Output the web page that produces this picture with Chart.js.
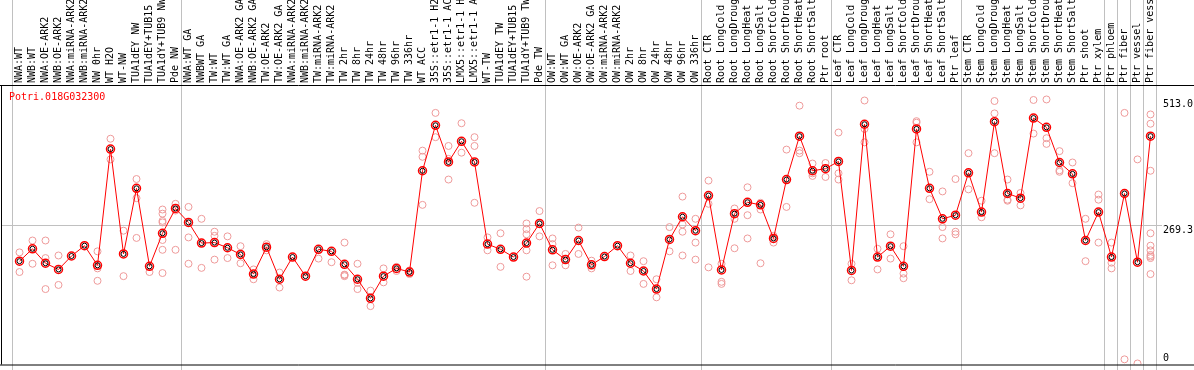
<!DOCTYPE html>
<html>
<head>
<meta charset="utf-8">
<script src="https://cdn.jsdelivr.net/npm/chart.js@4.4.0/dist/chart.umd.min.js"></script>
<style>
  html, body { margin: 0; padding: 0; background: #fff; }
</style>
</head>
<body>
<canvas id="myChart" width="1194" height="370"></canvas>
<script>
const geneId = 'Potri.018G032300';

const samples = [
  'NWA:WT', 'NWB:WT', 'NWA:OE-ARK2', 'NWB:OE-ARK2', 'NWA:miRNA-ARK2', 'NWB:miRNA-ARK2', 'NW 0hr',
  'WT H2O', 'WT-NW', 'TUA1dEY NW', 'TUA1dEY+TUB15', 'TUA1dY+TUB9 NW', 'Pde NW',
  'NWA:WT GA', 'NWBWT GA', 'TW:WT', 'TW:WT GA', 'NWA:OE-ARK2 GA', 'NWB:OE-ARK2 GA', 'TW:OE-ARK2',
  'TW:OE-ARK2 GA', 'NWA:miRNA-ARK2', 'NWB:miRNA-ARK2', 'TW:miRNA-ARK2', 'TW:miRNA-ARK2', 'TW 2hr',
  'TW 8hr', 'TW 24hr', 'TW 48hr', 'TW 96hr', 'TW 336hr', 'WT ACC', '35S::etr1-1 H2', '35S::etr1-1 AC',
  'LMX5::etr1-1 H', 'LMX5::etr1-1 A', 'WT-TW', 'TUA1dEY TW', 'TUA1dEY+TUB15', 'TUA1dY+TUB9 TW', 'Pde TW',
  'OW:WT', 'OW:WT GA', 'OW:OE-ARK2', 'OW:OE-ARK2 GA', 'OW:miRNA-ARK2', 'OW:miRNA-ARK2', 'OW 2hr',
  'OW 8hr', 'OW 24hr', 'OW 48hr', 'OW 96hr', 'OW 336hr',
  'Root CTR', 'Root LongCold', 'Root LongDroug', 'Root LongHeat', 'Root LongSalt', 'Root ShortCold',
  'Root ShortDrou', 'Root ShortHeat', 'Root ShortSalt', 'Ptr root',
  'Leaf CTR', 'Leaf LongCold', 'Leaf LongDroug', 'Leaf LongHeat', 'Leaf LongSalt', 'Leaf ShortCold',
  'Leaf ShortDrou', 'Leaf ShortHeat', 'Leaf ShortSalt', 'Ptr leaf',
  'Stem CTR', 'Stem LongCold', 'Stem LongDroug', 'Stem LongHeat', 'Stem LongSalt', 'Stem ShortCold',
  'Stem ShortDrou', 'Stem ShortHeat', 'Stem ShortSalt', 'Ptr shoot',
  'Ptr xylem', 'Ptr phloem', 'Ptr fiber', 'Ptr vessel', 'Ptr fiber vess'
];

// mean expression per sample
const means = [
  200, 224, 196, 184, 210, 230, 192, 417, 214, 341, 190, 254, 302,
  275, 235, 236, 226, 213, 175, 227, 165, 208, 171, 223, 219, 194, 165, 128, 171, 186, 179,
  375, 463, 392, 432, 392, 233, 223, 208, 235, 273,
  222, 203, 240, 193, 209, 230, 196, 181, 146, 242, 286, 259,
  327, 183, 292, 314, 309, 244, 358, 442, 375, 379,
  393, 182, 465, 208, 229, 190, 456, 341, 282, 289,
  371, 295, 470, 331, 322, 477, 459, 391, 369, 240,
  295, 208, 331, 198, 442
];

// individual replicates per sample
const replicates = [
  [217, 179], [240, 195], [240, 206, 146], [211, 154], [245, 179], [275, 222, 195], [219, 186, 162],
  [437, 397], [259, 171], [359, 322], [205, 198, 171], [300, 292, 278, 241, 222, 177], [311, 298],
  [305, 246], [282, 187], [257, 249, 203], [248, 206], [229, 196], [184, 165], [233, 221], [178, 149],
  [211, 203], [188, 156], [225], [244, 196], [236, 174, 173], [195, 158, 146], [143, 113], [186, 159],
  [189, 181], [182, 175], [414, 402, 309], [487, 440], [423, 398, 358], [467, 410], [440, 423, 313],
  [246, 221], [254, 189], [230, 221, 175], [273, 262, 252, 221, 170], [297, 248],
  [244, 233, 192], [214, 192], [265, 214], [201, 186], [212, 206], [254, 209], [211, 181], [200, 156],
  [165, 130], [266, 219], [325, 271, 257], [282, 236],
  [356, 311], [195, 160], [302, 282], [343, 289], [313, 300], [249, 236], [416, 305], [501, 414, 409],
  [389, 370, 365], [390, 363],
  [449, 370, 358], [195, 163], [511, 456, 430], [224, 184], [252, 205], [229, 176, 167], [471, 468, 430],
  [373, 320], [335, 266, 244], [359, 257, 252],
  [409, 339], [317, 285], [510, 486, 409], [358, 319, 317], [332, 308], [512, 447], [513, 438, 427],
  [413, 376, 373], [391, 351], [282, 200],
  [329, 319, 236], [236, 197, 186], [487, 10], [397, 2], [484, 466, 375]
];

const yTicks = [0, 269.3, 513.0];
const yMax = 541;
// first sample index of each block (separator lines)
const groupStarts = [0, 13, 41, 53, 63, 73, 84, 85, 86, 87, 88];

const monoFont = 'DejaVu Sans Mono';

const repPoints = [];
replicates.forEach((vals, i) => {
  vals.forEach(v => repPoints.push({ x: samples[i], y: v }));
});

const framePlugin = {
  id: 'frame',
  beforeDatasetsDraw(chart) {
    const { ctx, scales: { x, y } } = chart;
    const step = x.width / samples.length;
    ctx.save();
    ctx.strokeStyle = '#c0c0c0';
    ctx.lineWidth = 1;
    groupStarts.forEach(i => {
      const px = Math.round(x.getPixelForValue(i) - step / 2 - 1.5) + 0.5;
      ctx.beginPath();
      ctx.moveTo(px, 0);
      ctx.lineTo(px, chart.height);
      ctx.stroke();
    });
    const top = Math.max(...yTicks);
    yTicks.filter(v => v > 0 && v < top).forEach(v => {
      const py = Math.round(y.getPixelForValue(v)) + 0.5;
      ctx.beginPath();
      ctx.moveTo(2, py);
      ctx.lineTo(x.right + 5, py);
      ctx.stroke();
    });
    ctx.restore();
  },
  afterDraw(chart) {
    const { ctx, chartArea, scales: { y } } = chart;
    ctx.save();
    ctx.strokeStyle = '#000';
    ctx.lineWidth = 1;
    ctx.beginPath();
    ctx.moveTo(0, chartArea.top + 0.5);
    ctx.lineTo(chart.width, chartArea.top + 0.5);
    ctx.moveTo(0, chartArea.bottom + 0.5);
    ctx.lineTo(chart.width, chartArea.bottom + 0.5);
    ctx.moveTo(1.5, chartArea.top);
    ctx.lineTo(1.5, chartArea.bottom);
    ctx.stroke();

    ctx.font = '10px "' + monoFont + '"';
    ctx.fillStyle = '#000';
    ctx.textAlign = 'left';
    yTicks.forEach(v => {
      const py = y.getPixelForValue(v);
      const txt = v === 0 ? '0' : v.toFixed(1);
      if (v === 0) {
        ctx.textBaseline = 'bottom';
        ctx.fillText(txt, chartArea.right + 6, py - 1);
      } else {
        ctx.textBaseline = 'top';
        ctx.fillText(txt, chartArea.right + 6, py);
      }
    });

    ctx.fillStyle = '#ff0000';
    ctx.textBaseline = 'top';
    ctx.fillText(geneId, 9, chartArea.top + 7);
    ctx.restore();
  }
};

new Chart('myChart', {
  type: 'line',
  data: {
    labels: samples,
    datasets: [
      {
        label: 'core',
        data: means,
        showLine: false,
        pointRadius: 2.5,
        pointBorderWidth: 1,
        pointBorderColor: '#000',
        pointBackgroundColor: 'rgba(0,0,0,0)'
      },
      {
        label: 'mean',
        data: means,
        borderColor: '#ff0000',
        borderWidth: 1,
        pointRadius: 4,
        pointBorderWidth: 1.5,
        pointBorderColor: '#ff0000',
        pointBackgroundColor: 'rgba(0,0,0,0)',
        tension: 0
      },
      {
        label: 'replicates',
        data: repPoints,
        showLine: false,
        pointRadius: 3.5,
        pointBorderWidth: 1,
        pointBorderColor: '#ee9a9a',
        pointBackgroundColor: 'rgba(0,0,0,0)'
      }
    ]
  },
  options: {
    responsive: false,
    animation: false,
    events: [],
    layout: { padding: { left: 13, right: 37, top: 0, bottom: 1 } },
    plugins: {
      legend: { display: false },
      tooltip: { enabled: false }
    },
    scales: {
      x: {
        type: 'category',
        position: 'top',
        offset: true,
        grid: { display: false, drawTicks: false },
        border: { display: false },
        ticks: {
          autoSkip: false,
          minRotation: 90,
          maxRotation: 90,
          padding: 2,
          labelOffset: 12,
          color: '#000',
          font: { family: monoFont, size: 10 }
        },
        afterFit(scale) { scale.height = 85; }
      },
      y: {
        display: false,
        min: 0,
        max: yMax
      }
    }
  },
  plugins: [framePlugin]
});
</script>
</body>
</html>
